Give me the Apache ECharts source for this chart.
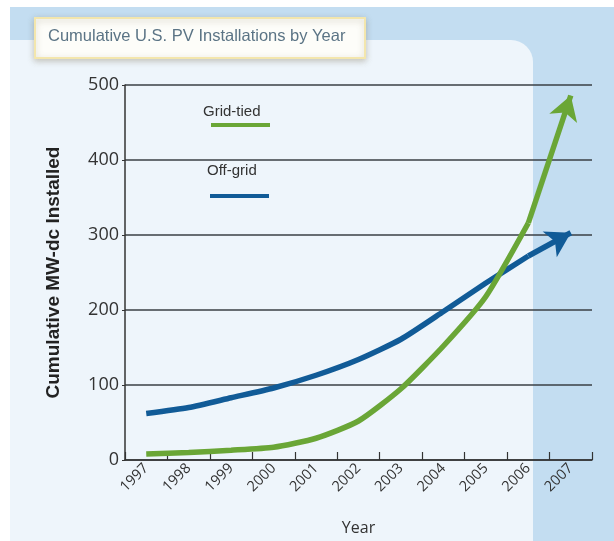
<!DOCTYPE html>
<html>
<head>
<meta charset="utf-8">
<script src="https://cdn.jsdelivr.net/npm/echarts@6/dist/echarts.min.js"></script>
<style>
html,body{margin:0;padding:0;background:#fff;overflow:hidden;}
#chart{width:614px;height:541px;}
</style>
</head>
<body>
<div id="chart"></div>
<script>
var years = ['1997','1998','1999','2000','2001','2002','2003','2004','2005','2006','2007'];
var gridTied = [8, 10, 13, 17, 29, 52, 95, 152, 218, 316, 486];
var offGrid = [62, 70, 83, 96, 113, 134, 161, 198, 236, 272, 303];
var yTicks = [0, 100, 200, 300, 400, 500];

var GREEN = '#6aa636';
var BLUE = '#115b97';
var last = years.length - 1;

function lineSeries(name, values, color) {
  return {
    name: name,
    type: 'line',
    data: values.slice(0, last),
    smooth: 0.2,
    symbol: 'none',
    lineStyle: { color: color, width: 5.5 },
    z: 3,
    markLine: {
      silent: true,
      symbol: ['none', 'arrow'],
      symbolSize: [22, 24],
      label: { show: false },
      lineStyle: { color: color, width: 5.5, type: 'solid' },
      emphasis: { disabled: true },
      data: [[
        { coord: [years[last - 1], values[last - 1]] },
        { coord: [years[last], values[last]] }
      ]]
    }
  };
}

var chart = echarts.init(document.getElementById('chart'));
chart.setOption({
  backgroundColor: '#ffffff',
  animation: false,
  graphic: [
    { type: 'rect', z: -10, shape: { x: 10, y: 7, width: 604, height: 534 }, style: { fill: '#c3ddf1' } },
    { type: 'rect', z: -9, shape: { x: 10, y: 40, width: 523, height: 510, r: [0, 22, 0, 0] }, style: { fill: '#eef5fb' } },
    { type: 'rect', z: 10, shape: { x: 35, y: 18, width: 330, height: 40 },
      style: { fill: '#fdfdf9', stroke: '#f3e6ad', lineWidth: 2, shadowBlur: 6, shadowColor: 'rgba(120,110,80,0.35)', shadowOffsetY: 2 } },
    { type: 'text', z: 11, left: 48, top: 28,
      style: { text: 'Cumulative U.S. PV Installations by Year', font: '16.5px "Liberation Sans", sans-serif', fill: '#5b7485' } },
    { type: 'text', z: 11, left: 203, top: 104,
      style: { text: 'Grid-tied', font: '15px "Liberation Sans", sans-serif', fill: '#333' } },
    { type: 'rect', z: 11, shape: { x: 211, y: 123, width: 59, height: 4 }, style: { fill: GREEN } },
    { type: 'text', z: 11, left: 207, top: 163,
      style: { text: 'Off-grid', font: '15px "Liberation Sans", sans-serif', fill: '#333' } },
    { type: 'rect', z: 11, shape: { x: 210, y: 194, width: 59, height: 4 }, style: { fill: BLUE } }
  ],
  grid: { left: 125, right: 22, top: 85, bottom: 76, containLabel: false },
  xAxis: {
    type: 'category',
    data: years,
    boundaryGap: true,
    name: 'Year',
    nameLocation: 'middle',
    nameGap: 60,
    nameTextStyle: { fontSize: 16, color: '#333', fontFamily: 'Open Sans' },
    axisLine: { lineStyle: { color: '#333', width: 1.5 } },
    axisTick: { show: true, inside: true, length: 8, lineStyle: { color: '#333', width: 1.2 } },
    axisLabel: { rotate: 45, fontSize: 14.5, color: '#333', margin: 6, fontFamily: 'Open Sans' },
    splitLine: { show: false }
  },
  yAxis: {
    type: 'value',
    min: yTicks[0],
    max: yTicks[yTicks.length - 1],
    interval: 100,
    name: 'Cumulative MW-dc Installed',
    nameLocation: 'middle',
    nameRotate: 90,
    nameGap: 62,
    nameTextStyle: { fontSize: 19, fontWeight: 'bold', color: '#222', fontFamily: 'Liberation Sans' },
    axisLine: { show: true, lineStyle: { color: '#333', width: 1.5 } },
    axisTick: { show: true, inside: false, length: 3, lineStyle: { color: '#333' } },
    axisLabel: { fontSize: 18, color: '#333', margin: 6, fontFamily: 'Open Sans' },
    splitLine: { show: true, lineStyle: { color: '#3a3f44', width: 1.5 } }
  },
  series: [
    lineSeries('Off-grid', offGrid, BLUE),
    lineSeries('Grid-tied', gridTied, GREEN)
  ]
});
</script>
</body>
</html>
